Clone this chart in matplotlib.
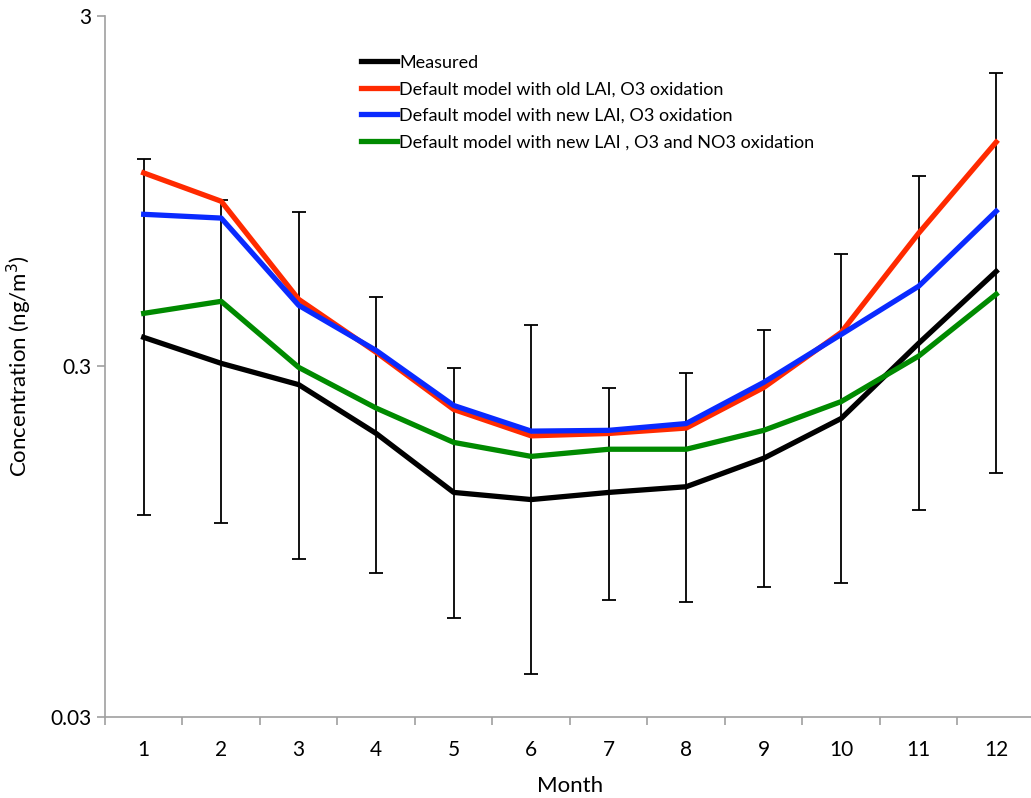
import numpy as np
import matplotlib
matplotlib.use("Agg")
import matplotlib.pyplot as plt

plt.rcParams['font.family'] = ['Lato', 'DejaVu Sans']

months = [1, 2, 3, 4, 5, 6, 7, 8, 9, 10, 11, 12]
measured = [0.363, 0.306, 0.266, 0.193, 0.131, 0.125, 0.131, 0.136, 0.164, 0.213, 0.349, 0.56]
meas_hi = [1.17, 0.894, 0.826, 0.472, 0.296, 0.393, 0.261, 0.288, 0.38, 0.627, 1.047, 2.06]
meas_lo = [0.113, 0.107, 0.0843, 0.0773, 0.0572, 0.0396, 0.0648, 0.0636, 0.0702, 0.072, 0.117, 0.149]
old_lai = [1.07, 0.888, 0.466, 0.329, 0.226, 0.19, 0.193, 0.2, 0.261, 0.375, 0.72, 1.31]
new_lai = [0.815, 0.795, 0.448, 0.333, 0.232, 0.196, 0.197, 0.206, 0.27, 0.37, 0.508, 0.832]
new_lai_no3 = [0.425, 0.46, 0.298, 0.228, 0.182, 0.166, 0.174, 0.174, 0.197, 0.238, 0.321, 0.482]

labels = ["Measured",
          "Default model with old LAI, O3 oxidation",
          "Default model with new LAI, O3 oxidation",
          "Default model with new LAI , O3 and NO3 oxidation"]

fig = plt.figure(figsize=(10.31, 7.98), dpi=100)
ax = fig.add_axes([0.1018, 0.1019, 0.902, 0.878])

x = np.array(months)
m = np.array(measured)
yerr = [m - np.array(meas_lo), np.array(meas_hi) - m]
ax.errorbar(x, m, yerr=yerr, fmt='none', ecolor='black', elinewidth=1.3,
            capsize=5, capthick=1.3, zorder=1)

ax.plot(x, measured, color='black', lw=3.8, label=labels[0], zorder=2)
ax.plot(x, old_lai, color='#ff2a00', lw=3.8, label=labels[1], zorder=3)
ax.plot(x, new_lai, color='#0a2aff', lw=3.8, label=labels[2], zorder=4)
ax.plot(x, new_lai_no3, color='#008a00', lw=3.8, label=labels[3], zorder=3)

ax.set_yscale('log')
ax.set_ylim(0.03, 3)
ax.set_xlim(0.5, 12.5)
ax.set_yticks([0.03, 0.3, 3])
ax.set_yticklabels(['0.03', '0.3', '3'])
ax.yaxis.set_minor_locator(matplotlib.ticker.NullLocator())
ax.set_xticks(months)
ax.set_xticks(np.arange(0.5, 13, 1), minor=True)
ax.tick_params(axis='x', which='major', length=0, labelsize=15, pad=17)
ax.tick_params(axis='x', which='minor', length=6, color='#a0a0a0', width=1.2)
ax.tick_params(axis='y', which='major', length=6, color='#a0a0a0', width=1.2, labelsize=15)

for s in ['top', 'right']:
    ax.spines[s].set_visible(False)
for s in ['left', 'bottom']:
    ax.spines[s].set_color('#a0a0a0')
    ax.spines[s].set_linewidth(1.2)

ax.set_xlabel("Month", fontsize=16, labelpad=11)
ax.set_ylabel("Concentration (ng/m$^3$)", fontsize=16, labelpad=12)

ax.legend(loc='upper left', bbox_to_anchor=(0.258, 0.968), frameon=False,
          fontsize=13, handlelength=2.0, handletextpad=0.1, labelspacing=0.58)

fig.savefig("out.png", dpi=100)
